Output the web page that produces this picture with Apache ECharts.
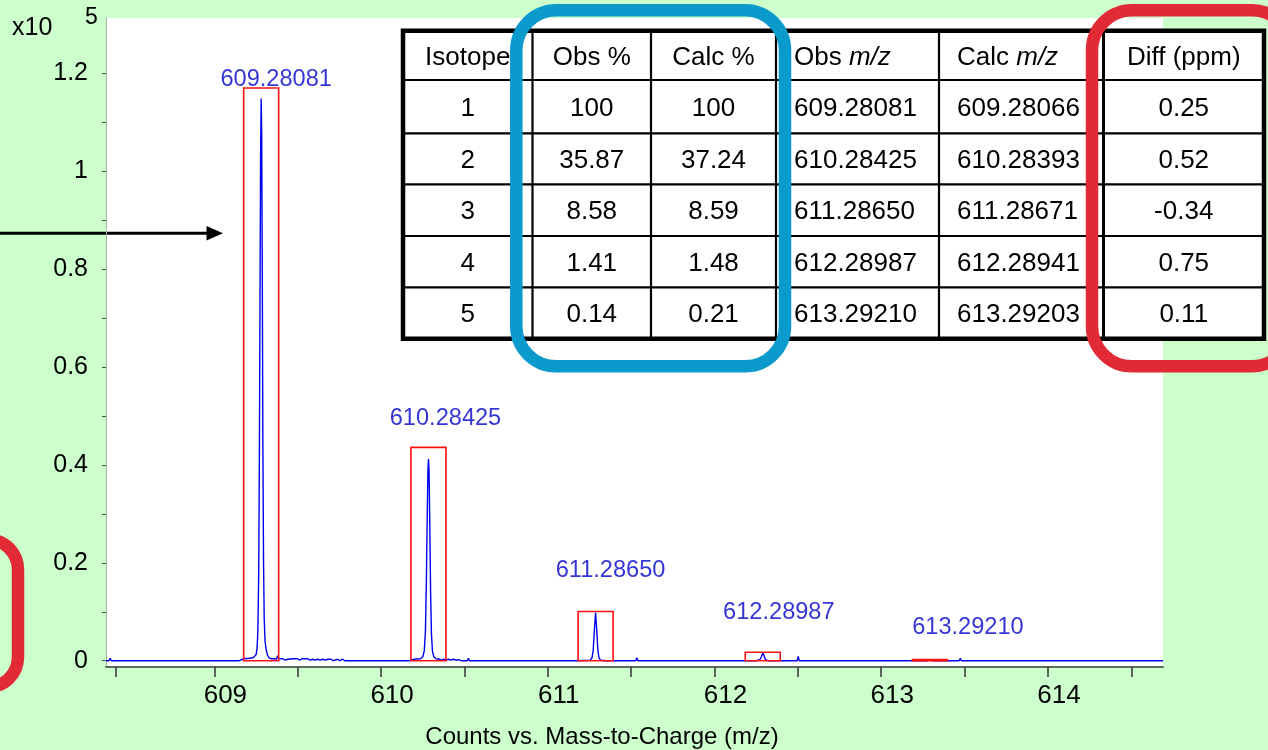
<!DOCTYPE html>
<html>
<head>
<meta charset="utf-8">
<script src="https://cdn.jsdelivr.net/npm/echarts@6/dist/echarts.min.js"></script>
<style>
  html, body { margin: 0; padding: 0; background: #ccffcc; }
  #chart { width: 1268px; height: 750px; }
</style>
</head>
<body>
<div id="chart"></div>
<script>
// Isotope pattern table values
const isotope = [1, 2, 3, 4, 5];
const obsPct = ['100', '35.87', '8.58', '1.41', '0.14'];
const calcPct = ['100', '37.24', '8.59', '1.48', '0.21'];
const obsMz = ['609.28081', '610.28425', '611.28650', '612.28987', '613.29210'];
const calcMz = ['609.28066', '610.28393', '611.28671', '612.28941', '613.29203'];
const diffPpm = ['0.25', '0.52', '-0.34', '0.75', '0.11'];

// Counts (x10^5) that a 100 % calculated isotope corresponds to
const calcFullScale = 1.1705;

// Axis ticks and labels
const xTickValues = [608.41, 609, 609.5, 610, 610.5, 611, 611.5, 612, 612.5, 613, 613.5, 614, 614.5];
const xLabelValues = [609, 610, 611, 612, 613, 614];
const yTickValues = [0, 0.1, 0.2, 0.3, 0.4, 0.5, 0.6, 0.7, 0.8, 0.9, 1, 1.1, 1.2];
const yLabelValues = [0, 0.2, 0.4, 0.6, 0.8, 1, 1.2];

// Profile spectrum: [m/z, counts x10^5]
const spectrum = [
  [608.350, 0.000], [608.368, 0.000], [608.375, 0.005], [608.382, 0.000],
  [609.150, 0.000], [609.176, 0.004], [609.210, 0.005], [609.232, 0.006],
  [609.241, 0.008], [609.250, 0.012], [609.256, 0.025], [609.261, 0.060],
  [609.266, 0.180], [609.270, 0.420], [609.274, 0.760], [609.2775, 1.040],
  [609.2808, 1.149], [609.2840, 1.070], [609.2875, 0.780], [609.291, 0.440],
  [609.295, 0.200], [609.299, 0.085], [609.304, 0.040], [609.310, 0.024],
  [609.318, 0.012], [609.328, 0.006], [609.340, 0.004], [609.360, 0.004],
  [609.372, 0.003], [609.380, 0.010], [609.386, 0.004], [609.395, 0.001],
  [609.410, 0.004], [609.425, 0.001], [609.440, 0.003], [609.470, 0.004],
  [609.500, 0.004], [609.512, 0.001], [609.524, 0.004], [609.560, 0.004],
  [609.575, 0.001], [609.590, 0.003], [609.605, 0.001], [609.620, 0.003],
  [609.635, 0.001], [609.650, 0.003], [609.665, 0.001], [609.680, 0.003],
  [609.700, 0.003], [609.712, 0.000], [609.740, 0.003], [609.752, 0.000],
  [609.770, 0.003], [609.782, 0.000], [609.822, 0.000], [609.830, 0.004],
  [609.838, 0.000], [609.862, 0.000], [609.868, 0.003], [609.874, 0.000],
  [610.104, 0.000], [610.110, 0.004], [610.116, 0.000], [610.170, 0.000],
  [610.200, 0.003], [610.235, 0.004], [610.250, 0.008], [610.259, 0.020],
  [610.266, 0.060], [610.272, 0.170], [610.277, 0.300], [610.281, 0.390],
  [610.2843, 0.412], [610.288, 0.385], [610.292, 0.280], [610.297, 0.140],
  [610.302, 0.055], [610.308, 0.020], [610.316, 0.008], [610.330, 0.004],
  [610.350, 0.003], [610.362, 0.001], [610.375, 0.003], [610.390, 0.001],
  [610.405, 0.003], [610.420, 0.001], [610.435, 0.003], [610.450, 0.001],
  [610.465, 0.002], [610.480, 0.000], [610.518, 0.000], [610.524, 0.005],
  [610.530, 0.000], [611.170, 0.000], [611.255, 0.001], [611.265, 0.006],
  [611.272, 0.020], [611.278, 0.055], [611.2865, 0.0986], [611.294, 0.060],
  [611.300, 0.022], [611.307, 0.006], [611.316, 0.001], [611.350, 0.000],
  [611.356, 0.004], [611.362, 0.000], [611.528, 0.000], [611.534, 0.006],
  [611.540, 0.000], [612.250, 0.000], [612.272, 0.002], [612.281, 0.008],
  [612.2899, 0.0162], [612.298, 0.009], [612.306, 0.002], [612.320, 0.000],
  [612.408, 0.000], [612.414, 0.004], [612.420, 0.000], [612.496, 0.000],
  [612.502, 0.009], [612.508, 0.000], [613.270, 0.000], [613.285, 0.0010],
  [613.2921, 0.0016], [613.299, 0.0010], [613.312, 0.000], [613.468, 0.000],
  [613.474, 0.005], [613.480, 0.000], [614.443, 0.000], [614.449, 0.003],
  [614.455, 0.000], [614.690, 0.000]
];

// Pixel shifts of the peak annotations from their anchor
const peakLabelShift = [[15, -8], [17, -29], [15, -41], [16, -40], [38, -32]];

const FONT = '"Liberation Sans", Arial, sans-serif';
const BOX_HALF_WIDTH = 0.105;

const chart = echarts.init(document.getElementById('chart'), null, { renderer: 'canvas' });

// ---- table built from the arrays ----
const colX = [403, 532.5, 651, 776, 939, 1103.5, 1264];
const rowY = [30.8, 80, 133.3, 184.3, 236, 287.3, 338.7];
const headers = ['Isotope', 'Obs %', 'Calc %', 'Obs {i|m/z}', 'Calc {i|m/z}', 'Diff (ppm)'];
const columns = [isotope.map(String), obsPct, calcPct, obsMz, calcMz, diffPpm];
const leftAligned = [false, false, false, true, true, false];

const tableEls = [];
tableEls.push({
  type: 'rect', shape: { x: colX[0], y: rowY[0], width: colX[6] - colX[0], height: rowY[6] - rowY[0] },
  style: { fill: '#ffffff' }
});
for (let c = 1; c < colX.length - 1; c++) {
  tableEls.push({
    type: 'line', shape: { x1: colX[c], y1: rowY[0], x2: colX[c], y2: rowY[6] },
    style: { stroke: '#000', lineWidth: c === 5 ? 3 : 2.2 }
  });
}
for (let r = 1; r < rowY.length - 1; r++) {
  tableEls.push({
    type: 'line', shape: { x1: colX[0], y1: rowY[r], x2: colX[6], y2: rowY[r] },
    style: { stroke: '#000', lineWidth: 2.2 }
  });
}
tableEls.push({
  type: 'rect', shape: { x: colX[0], y: rowY[0], width: colX[6] - colX[0], height: rowY[6] - rowY[0] },
  style: { fill: 'none', stroke: '#000', lineWidth: 4.5 }
});
function cellText(text, c, r) {
  const cy = (rowY[r] + rowY[r + 1]) / 2 + 2;
  const x = leftAligned[c] ? colX[c] + 18 : (colX[c] + colX[c + 1]) / 2;
  return {
    type: 'text',
    style: {
      text: text, x: x, y: cy,
      fontSize: 26, fontFamily: FONT, fill: '#000',
      align: leftAligned[c] ? 'left' : 'center', verticalAlign: 'middle',
      rich: { i: { fontSize: 26, fontFamily: FONT, fontStyle: 'italic', fill: '#000' } }
    }
  };
}
headers.forEach((h, c) => tableEls.push(cellText(h, c, 0)));
columns.forEach((col, c) => col.forEach((v, r) => tableEls.push(cellText(v, c, r + 1))));

// ---- highlight frames, arrow, scale note, axis title ----
const overlayEls = [
  { type: 'rect', shape: { x: 516.3, y: 10.3, width: 268.7, height: 356, r: 40 },
    style: { fill: 'none', stroke: '#0a9acc', lineWidth: 12.5 } },
  { type: 'rect', shape: { x: 1092, y: 10.3, width: 200, height: 356, r: 40 },
    style: { fill: 'none', stroke: '#e12a36', lineWidth: 12.5 } },
  { type: 'rect', shape: { x: -60, y: 539.5, width: 78, height: 147.5, r: 30 },
    style: { fill: 'none', stroke: '#e12a36', lineWidth: 12.5 } },
  { type: 'line', shape: { x1: 0, y1: 233.3, x2: 208, y2: 233.3 },
    style: { stroke: '#000', lineWidth: 3 } },
  { type: 'polygon', shape: { points: [[206.5, 226], [223, 233.3], [206.5, 240.6]] },
    style: { fill: '#000' } },
  { type: 'text', style: { text: 'x10', x: 12, y: 28, fontSize: 25, fontFamily: FONT, fill: '#000',
    align: 'left', verticalAlign: 'middle' } },
  { type: 'text', style: { text: '5', x: 85, y: 18, fontSize: 23, fontFamily: FONT, fill: '#000',
    align: 'left', verticalAlign: 'middle' } },
  { type: 'text', style: { text: 'Counts vs. Mass-to-Charge (m/z)', x: 602, y: 737, fontSize: 24,
    fontFamily: FONT, fill: '#000', align: 'center', verticalAlign: 'middle' } }
];

const boxData = calcMz.map((m, i) => [parseFloat(m) - BOX_HALF_WIDTH, parseFloat(m) + BOX_HALF_WIDTH,
  parseFloat(calcPct[i]) / 100 * calcFullScale]);

const peakLabelData = obsMz.map((m, i) => ({
  value: [parseFloat(m), parseFloat(calcPct[i]) / 100 * calcFullScale],
  label: { offset: peakLabelShift[i] }
}));

const option = {
  animation: false,
  backgroundColor: '#ccffcc',
  grid: {
    left: 106, top: 18, width: 1057, height: 649,
    show: true, backgroundColor: '#ffffff', borderWidth: 0
  },
  xAxis: {
    type: 'value', min: 608.35, max: 614.69,
    axisLine: { show: true, onZero: false, lineStyle: { color: '#5c6b5c', width: 2 } },
    axisTick: { show: true, length: 10, customValues: xTickValues, lineStyle: { color: '#333', width: 1.5 } },
    axisLabel: { customValues: xLabelValues, margin: 16, fontSize: 26, fontFamily: FONT, color: '#000',
      padding: [0, 0, 0, 22] },
    splitLine: { show: false }
  },
  yAxis: {
    type: 'value', min: -0.01288, max: 1.3135,
    axisLine: { show: true, onZero: false, lineStyle: { color: '#a8b8a8', width: 1 } },
    axisTick: { show: true, length: 4, customValues: yTickValues, lineStyle: { color: '#555', width: 1 } },
    axisLabel: { customValues: yLabelValues, margin: 18, fontSize: 25, fontFamily: FONT, color: '#000',
      padding: [0, 0, 13, 0] },
    splitLine: { show: false }
  },
  series: [
    {
      type: 'line', data: spectrum, showSymbol: false, symbol: 'none',
      lineStyle: { color: '#0000f0', width: 1.4 }, z: 3
    },
    {
      type: 'custom', data: boxData, z: 4,
      renderItem: (params, api) => {
        const p0 = api.coord([api.value(0), api.value(2)]);
        const p1 = api.coord([api.value(1), 0]);
        return {
          type: 'rect',
          shape: { x: p0[0], y: p0[1], width: p1[0] - p0[0], height: p1[1] - p0[1] },
          style: { fill: 'none', stroke: '#ff1010', lineWidth: 1.6 }
        };
      }
    },
    {
      type: 'scatter', data: peakLabelData, symbolSize: 0, z: 5,
      label: {
        show: true, position: [0, 0], align: 'center', verticalAlign: 'middle',
        fontSize: 23.6, fontFamily: FONT, color: '#0000cc',
        formatter: p => obsMz[p.dataIndex]
      }
    }
  ],
  graphic: [
    { type: 'group', z: 100, children: tableEls },
    { type: 'group', z: 110, children: overlayEls }
  ]
};
chart.setOption(option);
</script>
</body>
</html>
